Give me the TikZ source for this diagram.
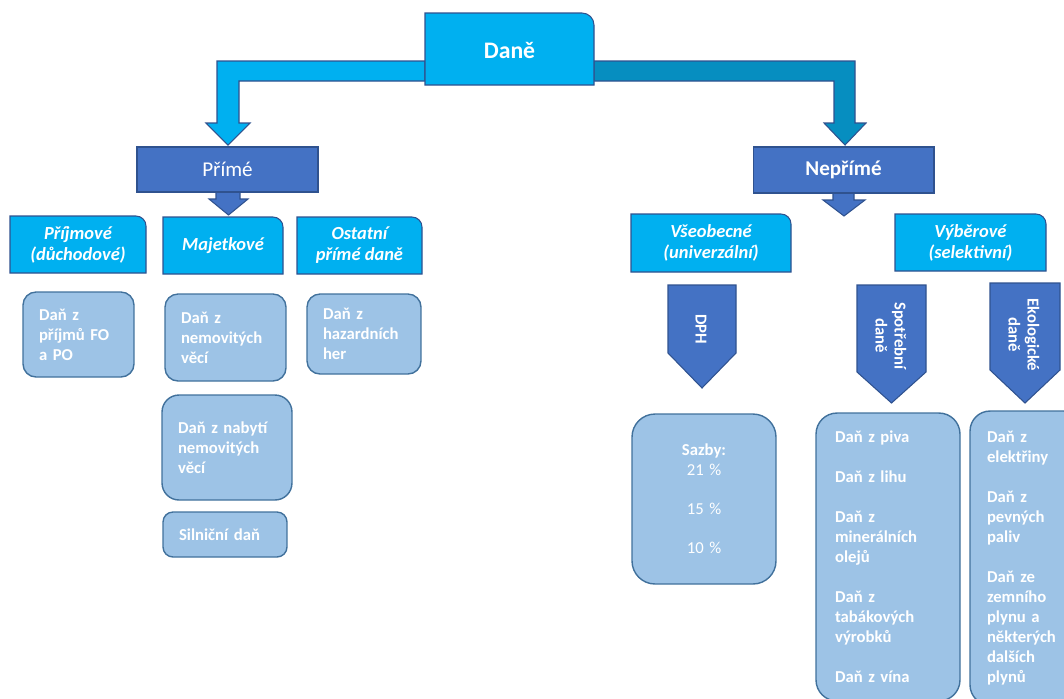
\documentclass[tikz,border=0pt]{standalone}
\usepackage{fontspec}
\setmainfont{Carlito}

\definecolor{daneCyan}{HTML}{00B0F0}
\definecolor{daneTeal}{HTML}{068EC0}
\definecolor{boxBlue}{HTML}{4472C4}
\definecolor{boxLine}{HTML}{2F528F}
\definecolor{listFill}{HTML}{9DC3E6}
\definecolor{listLine}{HTML}{41719C}

\tikzset{
  hdrshape/.style={fill=daneCyan, draw=boxLine, line width=0.6pt},
  hdrtext/.style={text=white, align=center, font=\fontsize{10.5}{12}\selectfont\bfseries\itshape},
  bluebox/.style={fill=boxBlue, draw=boxLine, line width=0.6pt, text=white, inner sep=0pt},
  listbox/.style={fill=listFill, draw=listLine, line width=0.8pt, text=white, align=left,
    inner xsep=0.32cm, inner ysep=2pt, font=\fontsize{9.5}{11.4}\selectfont\bfseries},
  arrowtext/.style={text=white, align=center, rotate=-90, font=\fontsize{9.5}{10.8}\selectfont\bfseries},
}

\begin{document}
\begin{tikzpicture}[x=0.02cm, y=-0.02cm]

\useasboundingbox (0,0) rectangle (1064,698);

% block arrows from the top box
\draw[fill=daneCyan, draw=boxLine, line width=0.6pt] (425,61) -- (217,61) -- (217,123) -- (206,123) -- (228,145) -- (250,123) -- (239,123) -- (239,81) -- (425,81) -- cycle;
\draw[fill=daneTeal, draw=boxLine, line width=0.6pt] (594,61) -- (855,61) -- (855,123) -- (866,123) -- (845,145) -- (824,123) -- (834,123) -- (834,81) -- (594,81) -- cycle;

% top box
\draw[hdrshape] (425,85) -- (425,13) -- (500,13) [rounded corners=0.24cm] -- (594,13) -- (594,50) [sharp corners] -- (594,85) -- cycle;
\node[text=white, font=\fontsize{13.5}{16}\selectfont\bfseries] (dane) at (509.5,50) {Daně};

% small arrows
\draw[fill=boxBlue, draw=boxLine, line width=0.6pt] (216,188) -- (216,199) -- (209,199) -- (228.5,215) -- (248,199) -- (240,199) -- (240,188) -- cycle;
\draw[fill=boxBlue, draw=boxLine, line width=0.6pt] (833,189) -- (833,200) -- (823,200) -- (844,216) -- (865,200) -- (854,200) -- (854,189) -- cycle;

% second level
\node[bluebox, minimum width=3.62cm, minimum height=0.9cm, font=\fontsize{12}{14}\selectfont] (prime) at (227.5,169.5) {Přímé};
\node[bluebox, minimum width=3.62cm, minimum height=0.92cm, font=\fontsize{12}{14}\selectfont\bfseries] (neprime) at (843.5,170) {Nepřímé};

% headers
\draw[hdrshape] (10,273) -- (10,216) -- (80,216) [rounded corners=0.2cm] -- (146,216) -- (146,245) [sharp corners] -- (146,273) -- cycle;
\node[hdrtext] (prijmove) at (78,244.5) {Příjmové\\(důchodové)};

\draw[hdrshape] (163,274) -- (163,217) -- (220,217) [rounded corners=0.2cm] -- (283,217) -- (283,245) [sharp corners] -- (283,274) -- cycle;
\node[hdrtext] (majetkove) at (223,245.5) {Majetkové};

\draw[hdrshape] (297,274) -- (297,217) -- (360,217) [rounded corners=0.2cm] -- (422,217) -- (422,245) [sharp corners] -- (422,274) -- cycle;
\node[hdrtext] (ostatni) at (359.5,245.5) {Ostatní\\přímé daně};

\draw[hdrshape] (631,272) -- (631,214) -- (710,214) [rounded corners=0.2cm] -- (791,214) -- (791,243) [sharp corners] -- (791,272) -- cycle;
\node[hdrtext] (vseobecne) at (711,243) {Všeobecné\\(univerzální)};

\draw[hdrshape] (895,271) -- (895,214) -- (970,214) [rounded corners=0.2cm] -- (1046,214) -- (1046,243) [sharp corners] -- (1046,271) -- cycle;
\node[hdrtext] (vyberove) at (970.5,242.5) {Výběrové\\(selektivní)};

% direct taxes
\node[listbox, rounded corners=0.26cm, text width=1.58cm, minimum height=1.7cm] (prijmy) at (78.5,334.5) {Daň z\\příjmů FO\\a PO};
\node[listbox, rounded corners=0.26cm, text width=1.78cm, minimum height=1.74cm] (nemovite) at (225.5,337.5) {Daň z\\nemovitých\\věcí};
\node[listbox, rounded corners=0.26cm, text width=1.64cm, minimum height=1.6cm] (hazard) at (364,334) {Daň z\\hazardních\\her};
\node[listbox, rounded corners=0.34cm, text width=1.96cm, minimum height=2.1cm] (nabyti) at (227,447.5) {Daň z nabytí\\nemovitých\\věcí};
\node[listbox, rounded corners=0.2cm, text width=1.84cm, minimum height=0.9cm] (silnicni) at (225,534.5) {Silniční daň};

% indirect taxes
\draw[bluebox] (668,285) -- (736,285) -- (736,353) -- (702,388) -- (668,353) -- cycle;
\node[arrowtext] (dph) at (701,329) {DPH};

\draw[bluebox] (857,285) -- (926,285) -- (926,372) -- (891.5,403) -- (857,372) -- cycle;
\node[arrowtext] (spotrebni) at (891,336) {Spotřební\\daně};

\draw[bluebox] (990,283) -- (1060,283) -- (1060,370) -- (1025,403) -- (990,370) -- cycle;
\node[arrowtext] (ekologicke) at (1024,335) {Ekologické\\daně};

\node[listbox, align=center, rounded corners=0.46cm, text width=2.24cm, minimum height=3.4cm, font=\fontsize{9.5}{11.2}\selectfont] (sazby) at (704,499) {\textbf{Sazby:}\\21 \%\\[11.2pt]15 \%\\[11.2pt]10 \%};
\node[listbox, rounded corners=0.42cm, inner xsep=0.38cm, text width=2.12cm, minimum height=5.76cm] (spotreba) at (888,557) {Daň z piva\\[11.4pt]Daň z lihu\\[11.4pt]Daň z\\minerálních\\olejů\\[11.4pt]Daň z\\tabákových\\výrobků\\[11.4pt]Daň z vína};
\node[listbox, rounded corners=0.4cm, inner xsep=0.34cm, text width=1.6cm, minimum height=5.88cm] (ekolog) at (1027,558) {Daň z\\elektřiny\\[11.4pt]Daň z\\pevných\\paliv\\[11.4pt]Daň ze\\zemního\\plynu a\\některých\\dalších\\plynů};

\end{tikzpicture}
\end{document}
